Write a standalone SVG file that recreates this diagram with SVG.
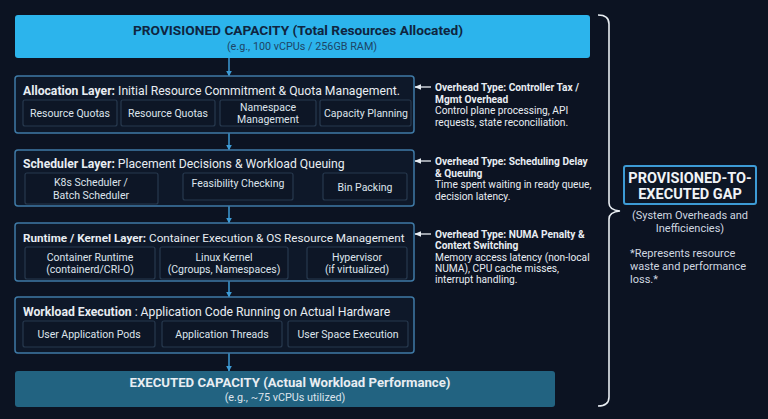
<svg xmlns="http://www.w3.org/2000/svg" width="768" height="419" viewBox="0 0 768 419">
<defs>
<marker id="ah" viewBox="0 0 10 10" refX="9" refY="5" markerWidth="6" markerHeight="6" orient="auto-start-reverse" markerUnits="userSpaceOnUse">
<path d="M0,0 L10,5 L0,10 z" fill="#3d9bd6"/>
</marker>
<marker id="aw" viewBox="0 0 10 10" refX="9" refY="5" markerWidth="7" markerHeight="7" orient="auto" markerUnits="userSpaceOnUse">
<path d="M0,1 L10,5 L0,9 z" fill="#e8edf2"/>
</marker>
<style>
text{font-family:Roboto,"Liberation Sans",sans-serif}
.layer{fill:#0e1829;stroke:#3f7aa6;stroke-width:1.5}
.sub{fill:#0d1626;stroke:#27394e;stroke-width:1.2}
.lt{font-size:12.2px;fill:#e8edf2}
.lt tspan.b{font-weight:700}
.st{font-size:10.5px;fill:#dde4ec;text-anchor:middle}
.ot{font-size:10.2px;fill:#e8edf2}
.ob{font-weight:700}
.flow{stroke:#3d9bd6;stroke-width:1.5;fill:none}
.oarr{stroke:#e8edf2;stroke-width:1.3;fill:none}
.gt{font-size:11px;fill:#cfd7e0}
</style>
</defs>
<rect width="768" height="419" fill="#0c1322"/>

<g id="connectors">
<line class="flow" x1="229" y1="58" x2="229" y2="76" marker-end="url(#ah)"/>
<line class="flow" x1="229" y1="133" x2="229" y2="150" marker-end="url(#ah)"/>
<line class="flow" x1="229" y1="206" x2="229" y2="223" marker-end="url(#ah)"/>
<line class="flow" x1="229" y1="281" x2="229" y2="297" marker-end="url(#ah)"/>
<line class="flow" x1="229" y1="353" x2="229" y2="371" marker-end="url(#ah)"/>
<line class="oarr" x1="431" y1="87" x2="415" y2="87" marker-end="url(#aw)"/>
<line class="oarr" x1="431" y1="161" x2="415" y2="161" marker-end="url(#aw)"/>
<line class="oarr" x1="431" y1="234" x2="415" y2="234" marker-end="url(#aw)"/>
<path d="M598,15 Q609,15 609,24 L609,203 Q609,210 620,211 Q609,212 609,219 L609,397 Q609,406 598,406" fill="none" stroke="#e8edf2" stroke-width="1.6"/>
</g>

<g id="provisioned">
<rect x="15" y="15" width="575" height="43" rx="3" fill="#2cb4ec"/>
<text x="298" y="35" text-anchor="middle" font-size="13.7" font-weight="700" fill="#0f2540">PROVISIONED CAPACITY (Total Resources Allocated)</text>
<text x="302" y="50" text-anchor="middle" font-size="10.8" fill="#1d4566">(e.g., 100 vCPUs / 256GB RAM)</text>
</g>

<g id="allocation">
<rect class="layer" x="15" y="76" width="399" height="57" rx="3"/>
<text class="lt" x="23" y="94.5"><tspan class="b">Allocation Layer:</tspan> Initial Resource Commitment &amp; Quota Management.</text>
<rect class="sub" x="23" y="100" width="94" height="26" rx="2"/>
<text class="st" x="70" y="117">Resource Quotas</text>
<rect class="sub" x="121" y="100" width="94" height="26" rx="2"/>
<text class="st" x="168" y="117">Resource Quotas</text>
<rect class="sub" x="220" y="100" width="96" height="26" rx="2"/>
<text class="st" x="268" y="111">Namespace</text>
<text class="st" x="268" y="123">Management</text>
<rect class="sub" x="320" y="100" width="91" height="26" rx="2"/>
<text class="st" x="366" y="117">Capacity Planning</text>
</g>

<g id="scheduler">
<rect class="layer" x="15" y="150" width="399" height="56" rx="3"/>
<text class="lt" x="23" y="167.5"><tspan class="b">Scheduler Layer:</tspan> Placement Decisions &amp; Workload Queuing</text>
<rect class="sub" x="25" y="173" width="133" height="31" rx="2"/>
<text class="st" x="91" y="186">K8s Scheduler /</text>
<text class="st" x="91" y="199">Batch Scheduler</text>
<rect class="sub" x="183" y="173" width="110" height="27" rx="2"/>
<text class="st" x="238" y="187">Feasibility Checking</text>
<rect class="sub" x="323" y="173" width="84" height="27" rx="2"/>
<text class="st" x="365" y="191">Bin Packing</text>
</g>

<g id="runtime">
<rect class="layer" x="15" y="223" width="399" height="58" rx="3"/>
<text class="lt" x="23" y="241.5" style="font-size:11.7px"><tspan class="b">Runtime / Kernel Layer:</tspan> Container Execution &amp; OS Resource Management</text>
<rect class="sub" x="25" y="247" width="130" height="32" rx="2"/>
<text class="st" x="90" y="261">Container Runtime</text>
<text class="st" x="90" y="273">(containerd/CRI-O)</text>
<rect class="sub" x="160" y="247" width="128" height="32" rx="2"/>
<text class="st" x="224" y="261">Linux Kernel</text>
<text class="st" x="224" y="273">(Cgroups, Namespaces)</text>
<rect class="sub" x="307" y="247" width="100" height="32" rx="2"/>
<text class="st" x="357" y="261">Hypervisor</text>
<text class="st" x="357" y="273">(if virtualized)</text>
</g>

<g id="workload">
<rect class="layer" x="15" y="297" width="399" height="56" rx="3"/>
<text class="lt" x="23" y="315.5"><tspan class="b">Workload Execution</tspan> : Application Code Running on Actual Hardware</text>
<rect class="sub" x="23" y="321" width="132" height="26" rx="2"/>
<text class="st" x="89" y="338">User Application Pods</text>
<rect class="sub" x="162" y="321" width="120" height="26" rx="2"/>
<text class="st" x="222" y="338">Application Threads</text>
<rect class="sub" x="288" y="321" width="120" height="26" rx="2"/>
<text class="st" x="348" y="338">User Space Execution</text>
</g>

<g id="executed">
<rect x="15" y="371" width="540" height="36" rx="3" fill="#226381"/>
<text x="290" y="387" text-anchor="middle" font-size="13.2" font-weight="700" fill="#e8edf2">EXECUTED CAPACITY (Actual Workload Performance)</text>
<text x="285" y="401" text-anchor="middle" font-size="10.8" fill="#dde4ec">(e.g., ~75 vCPUs utilized)</text>
</g>

<g id="overhead-allocation">
<text class="ot" x="435" y="91"><tspan class="ob">Overhead Type: Controller Tax /</tspan><tspan class="ob" x="435" dy="11.5">Mgmt Overhead</tspan><tspan x="435" dy="11.5">Control plane processing, API</tspan><tspan x="435" dy="11.5">requests, state reconciliation.</tspan></text>
</g>
<g id="overhead-scheduler">
<text class="ot" x="435" y="165"><tspan class="ob">Overhead Type: Scheduling Delay</tspan><tspan class="ob" x="435" dy="11.5">&amp; Queuing</tspan><tspan x="435" dy="11.5">Time spent waiting in ready queue,</tspan><tspan x="435" dy="11.5">decision latency.</tspan></text>
</g>
<g id="overhead-runtime">
<text class="ot" x="435" y="238"><tspan class="ob">Overhead Type: NUMA Penalty &amp;</tspan><tspan class="ob" x="435" dy="11.3">Context Switching</tspan><tspan x="435" dy="11.3">Memory access latency (non-local</tspan><tspan x="435" dy="11.3">NUMA), CPU cache misses,</tspan><tspan x="435" dy="11.3">interrupt handling.</tspan></text>
</g>

<g id="gap">
<rect x="624" y="166" width="132" height="38" rx="2" fill="#0d1626" stroke="#3d9bd6" stroke-width="2"/>
<text x="690" y="183" text-anchor="middle" font-size="14.5" font-weight="700" fill="#f0f3f7">PROVISIONED-TO-</text>
<text x="690" y="199" text-anchor="middle" font-size="14.5" font-weight="700" fill="#f0f3f7">EXECUTED GAP</text>
<text class="gt" x="690" y="219" text-anchor="middle">(System Overheads and</text>
<text class="gt" x="690" y="231.5" text-anchor="middle">Inefficiencies)</text>
<text class="gt" x="630" y="257">*Represents resource</text>
<text class="gt" x="630" y="270">waste and performance</text>
<text class="gt" x="630" y="283">loss.*</text>
</g>
</svg>
